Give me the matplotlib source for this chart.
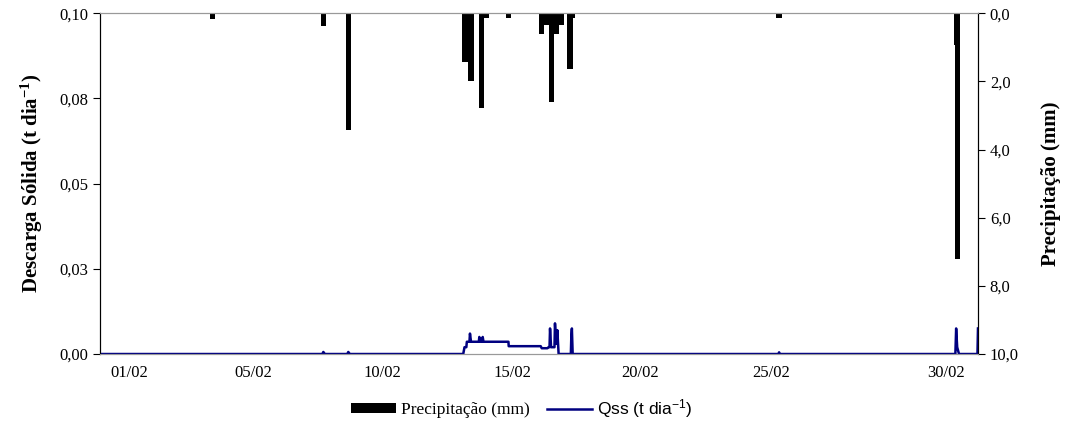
import matplotlib
matplotlib.use('Agg')
import matplotlib.pyplot as plt

plt.rcParams['font.family'] = ['Liberation Serif', 'DejaVu Serif']
plt.rcParams['mathtext.default'] = 'regular'

# precipitação (mm) - eventos, posição em dias
chuva_dia = [3.49, 7.74, 8.70, 13.19, 13.42, 13.81, 14.00, 14.85, 16.14, 16.31,
             16.53, 16.72, 16.91, 17.23, 17.33, 25.27, 32.08, 32.13]
chuva_mm = [0.16, 0.38, 3.43, 1.43, 2.00, 2.79, 0.15, 0.15, 0.60, 0.35,
            2.60, 0.60, 0.35, 1.64, 0.15, 0.15, 0.94, 7.20]

# descarga sólida Qss (t dia-1)
qss_dia = [-0.85, 7.70, 7.74, 7.80, 8.66, 8.70, 8.76, 13.12, 13.17, 13.24, 13.26,
           13.36, 13.38, 13.42, 13.72, 13.74, 13.78, 13.85, 13.87, 13.90, 14.86,
           14.87, 16.10, 16.14, 16.36, 16.40, 16.44, 16.46, 16.50, 16.63, 16.65,
           16.70, 16.74, 16.79, 17.26, 17.28, 17.30, 17.33, 25.24, 25.27, 25.30,
           32.05, 32.08, 32.12, 32.19, 32.90, 32.92]
qss = [0, 0, 0.0006, 0, 0, 0.0006, 0, 0, 0.002, 0.002, 0.0036,
       0.0036, 0.006, 0.0036, 0.0036, 0.005, 0.0036, 0.0036, 0.005, 0.0036, 0.0036,
       0.0023, 0.0023, 0.0017, 0.0017, 0.002, 0.002, 0.0075, 0.002, 0.002, 0.009,
       0.003, 0.007, 0, 0, 0.0055, 0.0075, 0, 0, 0.0005, 0,
       0, 0.0075, 0.002, 0, 0, 0.0075]

rotulos_x = ['01/02', '05/02', '10/02', '15/02', '20/02', '25/02', '30/02']
pos_x = [0.27, 5.04, 10.0, 15.0, 19.92, 24.96, 31.7]
ticks_qss = [0, 0.025, 0.05, 0.075, 0.1]
rotulos_qss = ['0,00', '0,03', '0,05', '0,08', '0,10']
ticks_chuva = [0, 2, 4, 6, 8, 10]
rotulos_chuva = ['0,0', '2,0', '4,0', '6,0', '8,0', '10,0']

fig = plt.figure(figsize=(10.65, 4.25), dpi=100)
ax = fig.add_axes([0.0939, 0.167, 0.8244, 0.802])
ax2 = ax.twinx()

barras = ax2.bar(chuva_dia, chuva_mm, width=0.2, color='black', label='Precipitação (mm)')
ax2.set_ylim(10, 0)
ax2.set_yticks(ticks_chuva)
ax2.set_yticklabels(rotulos_chuva)
ax2.set_ylabel('Precipitação (mm)', fontsize=15, fontweight='bold', labelpad=16)

linha, = ax.plot(qss_dia, qss, color='#000080', lw=1.8, label='Qss (t dia$^{-1}$)')
ax.set_ylim(0, 0.1)
ax.set_xlim(-0.85, 32.92)
ax.set_yticks(ticks_qss)
ax.set_yticklabels(rotulos_qss)
ax.set_ylabel('Descarga Sólida (t dia$^{-1}$)', fontsize=15, fontweight='bold', labelpad=10)
ax.set_xticks(pos_x)
ax.set_xticklabels(rotulos_x)

ax.set_zorder(ax2.get_zorder() + 1)
ax.patch.set_visible(False)

for a in (ax, ax2):
    a.tick_params(axis='y', direction='out', length=5, labelsize=12)
    a.tick_params(axis='x', length=0, labelsize=12, pad=8)
    a.spines['top'].set_color('#999999')
    a.spines['bottom'].set_color('#999999')

leg = fig.legend([barras, linha], ['Precipitação (mm)', 'Qss (t dia$^{-1}$)'],
                 loc='lower center', bbox_to_anchor=(0.49, -0.025), ncol=2,
                 frameon=False, fontsize=12.5, handlelength=2.6, handleheight=0.5,
                 columnspacing=1.0, handletextpad=0.3)
leg.get_texts()[1].set_family('Liberation Sans')

fig.savefig('out.png', dpi=100)
